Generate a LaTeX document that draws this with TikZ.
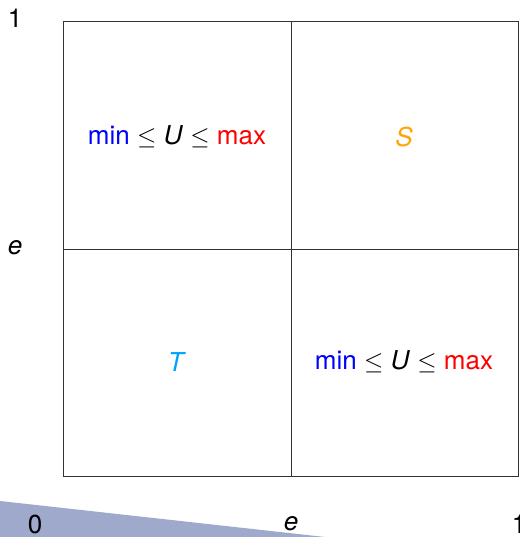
\documentclass[tikz,border=0pt]{standalone}
\usepackage{fontspec}
\setsansfont{TeX Gyre Heros}
\definecolor{wedge}{RGB}{159,169,204}
\definecolor{tcol}{RGB}{0,162,255}
\definecolor{scol}{RGB}{255,165,0}
\newcommand{\mnm}{\textcolor{blue}{min}}
\newcommand{\mxm}{\textcolor{red}{max}}
\newcommand{\rng}{\mnm\ $\leq$\ \textit{U}\ $\leq$\ \mxm}
\begin{document}
\begin{tikzpicture}[x=1pt,y=1pt,
  lbl/.style={font=\fontsize{26}{30}\selectfont\sffamily, inner sep=0pt},
  cell/.style={draw=black!80, line width=0.9pt}]
\useasboundingbox (0,0) rectangle (519,537);
\fill[wedge] (0,36) -- (325,0) -- (0,0) -- cycle;
\coordinate (bl) at (63,61);
\coordinate (tr) at (518,516);
\draw[cell] (bl) rectangle (tr);
\draw[cell] (291,61) -- (291,516);
\draw[cell] (63,288) -- (518,288);
\node[lbl] (ul) at (177,400) {\rng};
\node[lbl] (ur) at (404,400) {\textcolor{scol}{\textit{S}}};
\node[lbl] (ll) at (177,175) {\textcolor{tcol}{\textit{T}}};
\node[lbl] (lr) at (404,175) {\rng};
\node[lbl] (y1) at (15,519) {1};
\node[lbl] (ye) at (15,289) {\textit{e}};
\node[lbl] (x0) at (35,13) {0};
\node[lbl] (xe) at (291,13) {\textit{e}};
\node[lbl] (x1) at (519,13) {1};
\end{tikzpicture}
\end{document}
